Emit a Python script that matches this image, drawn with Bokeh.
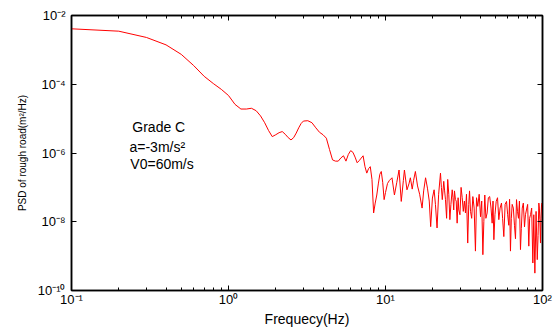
from bokeh.plotting import figure
from bokeh.models import LogAxis, FixedTicker, CustomJSTickFormatter, ColumnDataSource
from bokeh.core.properties import value
from bokeh.embed import file_html
from bokeh.resources import INLINE

# ---- data ----
freq = [0.1, 0.2, 0.3, 0.4, 0.5, 0.6, 0.7, 0.8, 0.9, 1.0, 1.1, 1.2, 1.3, 1.4, 1.5, 1.6, 1.7, 1.8, 1.9, 2.0,
        2.1, 2.2, 2.3, 2.4, 2.5, 2.6, 2.7, 2.8, 2.9, 3.0, 3.2, 3.4, 3.6, 3.8, 4.0, 4.2, 4.4, 4.6, 4.8, 5.0,
        5.2, 5.4, 5.6, 5.8, 6.0, 6.2, 6.4, 6.6, 6.8, 7.0, 7.2, 7.4, 7.6, 7.8, 8.0, 8.2, 8.4, 8.6, 8.8, 9.0,
        9.2, 9.4, 9.6, 9.8, 10.0, 10.3, 10.6, 11.0, 11.4, 11.8, 12.2, 12.6, 13.0, 13.2, 13.7, 14.1, 14.4, 14.8,
        15.1, 15.5, 16.0, 16.5, 17.1, 17.5, 18.0, 18.5, 19.0, 19.4, 19.9, 20.4, 20.8, 21.3, 21.8,
        22.4, 22.7, 23.0, 23.5, 23.8, 24.1, 24.5, 24.9, 25.3, 25.7, 26.1, 26.6, 26.9, 27.2, 27.5, 27.9,
        28.2, 28.6, 29.0, 29.3, 29.8, 30.3, 30.8, 31.3, 31.8, 32.3, 32.8, 33.4, 33.9, 34.3, 34.8, 35.4,
        36.0, 36.7, 37.4, 38.0, 38.7, 39.5, 40.3, 41.0, 41.7, 42.3, 42.9, 43.6, 44.4, 45.2, 46.1, 47.0,
        47.8, 48.4, 49.0, 49.8, 50.7, 51.7, 52.7, 53.7, 54.8, 55.7, 56.7, 57.8, 59.0, 60.0, 61.0, 61.7,
        62.5, 63.3, 64.1, 65.2, 66.3, 67.3, 68.3, 69.3, 70.3, 71.3, 72.4, 73.3, 74.3, 75.5, 76.8, 77.9,
        79.0, 80.4, 81.8, 82.8, 83.9, 85.3, 86.8, 88.0, 89.4, 91.0, 92.6, 93.7, 94.8, 95.5, 96.2, 97.1,
        97.8, 98.6, 99.3, 100.0]

psd = [4.1e-3, 3.5e-3, 2.3e-3, 1.4e-3, 7.4e-4, 3.5e-4, 1.7e-4, 1.05e-4, 7.1e-5, 4.7e-5, 2.6e-5, 1.9e-5,
       1.9e-5, 2.0e-5, 1.7e-5, 1.2e-5, 7.6e-6, 4.5e-6, 3.0e-6, 3.4e-6,
       3.9e-6, 4.2e-6, 3.5e-6, 2.8e-6, 2.4e-6, 2.8e-6, 3.8e-6, 5.4e-6, 7.2e-6, 8.5e-6, 8.7e-6, 7.6e-6,
       5.4e-6, 4.0e-6, 3.4e-6, 2.7e-6, 1.26e-6, 6.3e-7, 5.8e-7, 5.8e-7,
       7.2e-7, 8.3e-7, 5.8e-7, 9.1e-7, 1.17e-6, 1.05e-6, 7.6e-7, 5.2e-7, 6.0e-7, 7.1e-7, 8.3e-7, 4.0e-7,
       2.6e-7, 3.5e-7, 4.0e-7, 1.7e-7, 1.8e-8, 3.5e-8, 6.0e-8, 1.26e-7,
       2.4e-7, 2.9e-7, 1.4e-7, 4.4e-8, 7.1e-8, 1.3e-7, 1.6e-7, 1.9e-7, 6.0e-8, 1.4e-7, 3.2e-7, 3.9e-8,
       1.6e-7, 3.2e-7, 8.5e-8, 1.26e-7, 1.9e-7, 8.9e-8,
       1.6e-7, 2.9e-7, 1.1e-7, 6.3e-8, 2.5e-8, 7.9e-8, 1.9e-7, 9.5e-8, 4.0e-8, 7.2e-9, 4.9e-8, 8.5e-8,
       3.2e-8, 6.6e-9, 6.3e-8,
       2.6e-7, 1.0e-7, 4.4e-8, 1.5e-7, 7.9e-8, 4.4e-8, 1.26e-8, 1.7e-7, 6.3e-8, 1.15e-8, 3.2e-8, 8.5e-8,
       5.0e-8, 2.2e-8, 7.9e-8, 4.4e-8,
       4.0e-8, 9.1e-9, 5.0e-8, 2.2e-8, 1.6e-8, 1.0e-7, 5.0e-8, 2.0e-8, 4.0e-8, 1.8e-8, 6.3e-8, 2.4e-9,
       3.2e-8, 7.9e-8, 2.0e-8, 1.26e-8,
       5.4e-8, 2.5e-8, 1.4e-9, 5.0e-8, 2.8e-8, 6.3e-8, 1.4e-8, 4.0e-8, 1.1e-9, 1.0e-8, 6.0e-8, 1.26e-8,
       1.8e-8, 5.0e-8, 5.4e-8, 2.5e-8,
       9.1e-9, 4.0e-8, 3.0e-9, 1.6e-8, 3.9e-8, 5.0e-8, 1.15e-8, 2.5e-8, 3.5e-8, 1.26e-8, 3.7e-9, 3.2e-8,
       3.9e-8, 1.6e-8, 7.9e-9, 4.5e-8,
       1.4e-9, 1.26e-8, 3.2e-8, 2.5e-8, 7.9e-9, 3.2e-9, 4.4e-8, 2.0e-8, 1.26e-8, 4.0e-8, 1.55e-9, 6.3e-9,
       2.5e-8, 3.5e-8, 7.1e-9, 1.6e-8,
       2.2e-8, 3.2e-8, 1.95e-9, 1.26e-8, 1.6e-8, 2.5e-8, 6.3e-10, 1.6e-8, 3.2e-10, 2.0e-8, 7.9e-10, 4.0e-9,
       3.5e-8, 2.5e-8, 1.15e-8, 2.4e-9,
       1.26e-8, 3.2e-8, 3.5e-8, 1.6e-8]

x_major_ticks = [0.1, 1, 10, 100]
x_minor_ticks = [0.2, 0.3, 0.4, 0.5, 0.6, 0.7, 0.8, 0.9, 2, 3, 4, 5, 6, 7, 8, 9,
                 20, 30, 40, 50, 60, 70, 80, 90]
y_major_ticks = [1e-10, 1e-8, 1e-6, 1e-4, 1e-2]

notes = ["Grade C", "a=-3m/s\u00b2", "V0=60m/s"]
notes_x = [0.244, 0.234, 0.237]
notes_y = [5.8e-6, 1.5e-6, 4.7e-7]

x_label = "Frequecy(Hz)"
y_label = "PSD of rough road(m\u00b2/Hz)"

FONT = "Liberation Sans"

p = figure(width=553, height=329, x_axis_type="log", y_axis_type="log",
           x_range=(0.1, 100), y_range=(1e-10, 1e-2),
           output_backend="svg", toolbar_location=None,
           min_border_left=71, min_border_right=11, min_border_top=15, min_border_bottom=38)
p.background_fill_color = "white"
p.border_fill_color = "white"
p.xgrid.visible = False
p.ygrid.visible = False
p.outline_line_color = "black"
p.outline_line_width = 1.5

fmt = CustomJSTickFormatter(code="""
const e = Math.round(Math.log10(tick));
const sup = {'-':'\u207b','0':'\u2070','1':'\u00b9','2':'\u00b2','3':'\u00b3','4':'\u2074',
             '5':'\u2075','6':'\u2076','7':'\u2077','8':'\u2078','9':'\u2079'};
return '10' + String(e).split('').map(c => sup[c]).join('');
""")

xt = FixedTicker(ticks=x_major_ticks, minor_ticks=x_minor_ticks)
yt = FixedTicker(ticks=y_major_ticks, minor_ticks=[])

def style(ax, labels=True):
    ax.axis_line_color = "black"
    ax.axis_line_width = 1.5
    ax.major_tick_in = 5
    ax.major_tick_out = 0
    ax.minor_tick_in = 3
    ax.minor_tick_out = 0
    ax.major_tick_line_color = "black"
    ax.minor_tick_line_color = "black"
    ax.major_label_text_font = FONT
    ax.major_label_text_font_size = "13px"
    ax.major_label_text_color = "black"
    ax.axis_label_text_font = FONT
    ax.axis_label_text_font_style = "normal"
    ax.axis_label_text_color = "black"
    if not labels:
        ax.major_label_text_font_size = "1px"
        ax.major_label_text_alpha = 0
        ax.major_label_standoff = 0

xa = p.xaxis[0]
xa.ticker = xt
xa.formatter = fmt
style(xa)
xa.axis_label = x_label
xa.axis_label_text_font_size = "14px"
xa.major_label_standoff = 1
xa.axis_label_standoff = 1

ya = p.yaxis[0]
ya.ticker = yt
ya.formatter = fmt
style(ya)
ya.axis_label = y_label
ya.axis_label_text_font_size = "10px"
ya.major_label_standoff = 6
ya.axis_label_standoff = 7

top = LogAxis(ticker=FixedTicker(ticks=x_major_ticks, minor_ticks=x_minor_ticks), formatter=fmt)
style(top, labels=False)
p.add_layout(top, "above")
right = LogAxis(ticker=FixedTicker(ticks=y_major_ticks, minor_ticks=[]), formatter=fmt)
style(right, labels=False)
p.add_layout(right, "right")

src = ColumnDataSource(dict(f=freq, p=psd))
p.line("f", "p", source=src, line_color="#ff0000", line_width=1)

nsrc = ColumnDataSource(dict(x=notes_x, y=notes_y, t=notes))
p.text("x", "y", text="t", source=nsrc, text_font=value(FONT), text_font_size="14px",
       text_color="black", text_align="left", text_baseline="alphabetic")

open("out.html", "w").write(file_html(p, INLINE))
